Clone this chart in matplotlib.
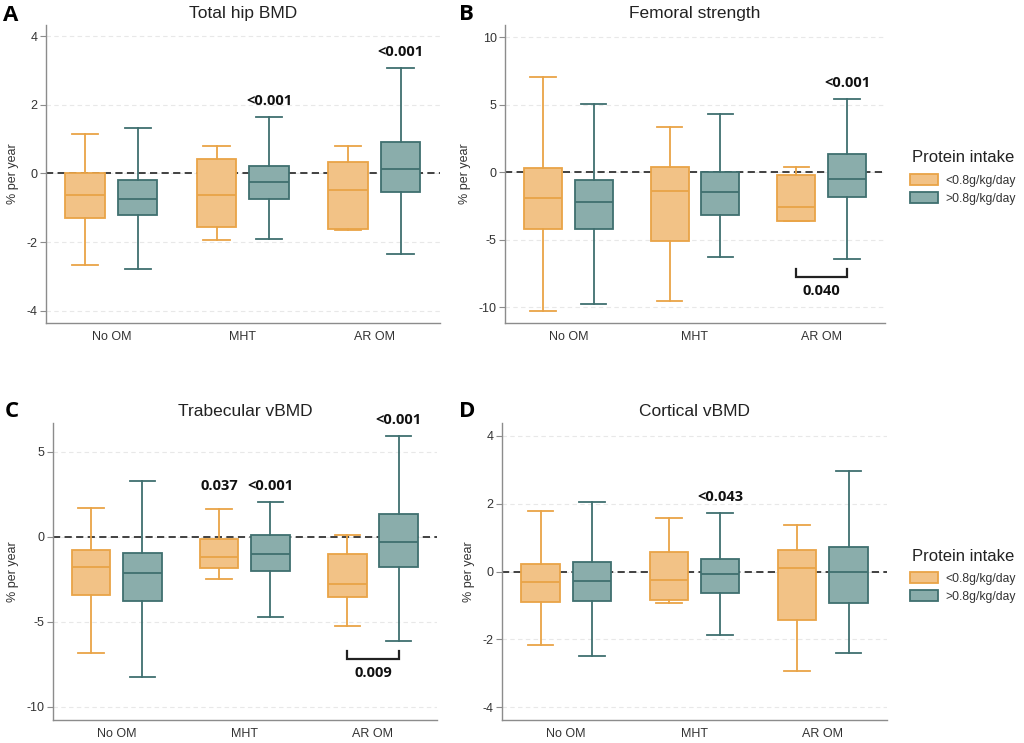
import numpy as np
import matplotlib
matplotlib.use("Agg")
import matplotlib.pyplot as plt
from matplotlib.patches import Patch

plt.rcParams["font.family"] = ["Liberation Sans", "DejaVu Sans"]
plt.rcParams["axes.unicode_minus"] = False

CATEGORIES = ["No OM", "MHT", "AR OM"]
GROUPS = ["<0.8g/kg/day", ">0.8g/kg/day"]

# five-number summaries per category: [whislo, q1, med, q3, whishi]
HIP_LOW = [[-2.66, -1.31, -0.64, 0.00, 1.16],
           [-1.94, -1.56, -0.63, 0.41, 0.81],
           [-1.64, -1.62, -0.49, 0.34, 0.79]]
HIP_HIGH = [[-2.78, -1.20, -0.73, -0.18, 1.34],
            [-1.90, -0.75, -0.26, 0.23, 1.64],
            [-2.34, -0.54, 0.14, 0.91, 3.09]]

FEM_LOW = [[-10.28, -4.20, -1.88, 0.32, 7.05],
           [-9.57, -5.07, -1.36, 0.40, 3.34],
           [-3.63, -3.63, -2.60, -0.20, 0.35]]
FEM_HIGH = [[-9.79, -4.20, -2.22, -0.57, 5.02],
            [-6.30, -3.16, -1.46, 0.00, 4.28],
            [-6.43, -1.83, -0.47, 1.38, 5.41]]

TRAB_LOW = [[-6.86, -3.40, -1.77, -0.79, 1.67],
            [-2.50, -1.85, -1.22, -0.12, 1.63],
            [-5.25, -3.56, -2.79, -1.00, 0.12]]
TRAB_HIGH = [[-8.23, -3.81, -2.16, -0.96, 3.26],
             [-4.72, -2.00, -1.00, 0.08, 2.06],
             [-6.15, -1.79, -0.28, 1.32, 5.93]]

CORT_LOW = [[-2.18, -0.90, -0.32, 0.21, 1.78],
            [-0.93, -0.83, -0.24, 0.58, 1.57],
            [-2.93, -1.43, 0.09, 0.64, 1.37]]
CORT_HIGH = [[-2.48, -0.88, -0.29, 0.28, 2.04],
             [-1.88, -0.62, -0.08, 0.37, 1.73],
             [-2.41, -0.94, -0.01, 0.72, 2.96]]

# p-values: (category index, group index, label)
HIP_PVALS = [(1, 1, "<0.001"), (2, 1, "<0.001")]
FEM_PVALS = [(2, 1, "<0.001")]
TRAB_PVALS = [(1, 0, "0.037"), (1, 1, "<0.001"), (2, 1, "<0.001")]
CORT_PVALS = [(1, 1, "<0.043")]

# between-group brackets: (category index, label)
FEM_BRACKETS = [(2, "0.040")]
TRAB_BRACKETS = [(2, "0.009")]

LEGEND_TITLE = "Protein intake"

FILL = ["#F2C286", "#8AADAB"]
EDGE = ["#E9A447", "#3F6F6F"]
OFFSET = [-0.2, 0.2]

W, H = 1024, 743
fig = plt.figure(figsize=(W / 100, H / 100), dpi=100)


def px_axes(left, top, right, bottom):
    return fig.add_axes([left / W, 1 - bottom / H, (right - left) / W, (bottom - top) / H])


def box_stats(rows):
    return [dict(whislo=r[0], q1=r[1], med=r[2], q3=r[3], whishi=r[4], fliers=[])
            for r in rows]


def draw_panel(ax, low, high, ylim, yticks, title, letter, letter_xy,
               pvals, brackets=()):
    x = np.arange(len(CATEGORIES))
    for g, rows in enumerate((low, high)):
        ax.bxp(box_stats(rows), positions=x + OFFSET[g], widths=0.3, capwidths=0.2,
               patch_artist=True, showfliers=False, zorder=3,
               boxprops=dict(facecolor=FILL[g], edgecolor=EDGE[g], linewidth=1.3),
               medianprops=dict(color=EDGE[g], linewidth=1.3),
               whiskerprops=dict(color=EDGE[g], linewidth=1.3),
               capprops=dict(color=EDGE[g], linewidth=1.3))

    ax.axhline(0, color="#333333", lw=1.3, dashes=(4, 2.4), zorder=2)
    ax.set_xlim(-0.5, 2.5)
    ax.set_ylim(*ylim)
    ax.set_yticks(yticks)
    ax.set_xticks(x)
    ax.set_xticklabels(CATEGORIES)
    ax.yaxis.grid(True, color="#e8e8e8", lw=0.8, dashes=(4, 3))
    ax.set_axisbelow(True)
    for s in ("top", "right"):
        ax.spines[s].set_visible(False)
    for s in ("left", "bottom"):
        ax.spines[s].set_color("#8c8c8c")
        ax.spines[s].set_linewidth(1.0)
    ax.tick_params(axis="y", length=4, color="#8c8c8c", labelsize=9,
                   labelcolor="#333333", pad=2)
    ax.tick_params(axis="x", length=0, labelsize=9, labelcolor="#333333", pad=6)
    ax.set_ylabel("% per year", fontsize=9, color="#333333", labelpad=5.5)
    ax.set_title(title, fontsize=12.5, color="#222222", pad=5)
    fig.text(letter_xy[0] / W, 1 - letter_xy[1] / H, letter, fontsize=16,
             fontweight="bold", family="Open Sans", va="baseline")

    # pixel -> data conversion along y
    ax_h = ax.get_position().height * H
    per_px = (ylim[1] - ylim[0]) / ax_h

    for cat, g, txt in pvals:
        top = max(low[cat][4], high[cat][4])
        ax.text(x[cat] + OFFSET[g], top + 12 * per_px, txt, ha="center",
                va="baseline", fontsize=10.5, fontweight="bold", family="Open Sans",
                color="#111111")

    for cat, txt in brackets:
        bottom = min(low[cat][0], high[cat][0])
        y1 = bottom - 10 * per_px
        y2 = y1 - 8 * per_px
        xs = [x[cat] + OFFSET[0], x[cat] + OFFSET[0], x[cat] + OFFSET[1], x[cat] + OFFSET[1]]
        ax.plot(xs, [y1, y2, y2, y1], color="#222222", lw=1.6, zorder=4,
                solid_joinstyle="miter")
        ax.text(x[cat], y2 - 14 * per_px, txt, ha="center", va="center",
                fontsize=10.5, fontweight="bold", family="Open Sans", color="#111111")


ax_a = px_axes(45.7, 25, 440, 323)
ax_b = px_axes(505, 25, 885, 323)
ax_c = px_axes(52.7, 423, 437, 720)
ax_d = px_axes(502, 423, 887, 720)

draw_panel(ax_a, HIP_LOW, HIP_HIGH, (-4.36, 4.33), [-4, -2, 0, 2, 4],
           "Total hip BMD", "A", (3, 21), HIP_PVALS)
draw_panel(ax_b, FEM_LOW, FEM_HIGH, (-11.17, 10.9), [-10, -5, 0, 5, 10],
           "Femoral strength", "B", (459, 20), FEM_PVALS, FEM_BRACKETS)
draw_panel(ax_c, TRAB_LOW, TRAB_HIGH, (-10.79, 6.7), [-10, -5, 0, 5],
           "Trabecular vBMD", "C", (5, 417), TRAB_PVALS, TRAB_BRACKETS)
draw_panel(ax_d, CORT_LOW, CORT_HIGH, (-4.38, 4.38), [-4, -2, 0, 2, 4],
           "Cortical vBMD", "D", (459, 417), CORT_PVALS)

handles = [Patch(facecolor=FILL[g], edgecolor=EDGE[g], linewidth=1.3, label=GROUPS[g])
           for g in range(2)]
# (title baseline px, first legend row top px)
for title_px, top_px in ((162, 174), (561, 572)):
    fig.text(912 / W, 1 - title_px / H, LEGEND_TITLE, fontsize=12,
             color="#222222", va="baseline")
    leg = fig.legend(handles=handles, loc="upper left",
                     bbox_to_anchor=(910 / W, 1 - top_px / H), frameon=False,
                     fontsize=8.7, handlelength=2.3, handleheight=1.05,
                     handletextpad=0.65, labelspacing=0.44,
                     borderpad=0, borderaxespad=0)
    for t in leg.get_texts():
        t.set_color("#333333")

fig.savefig("out.png", dpi=100)
